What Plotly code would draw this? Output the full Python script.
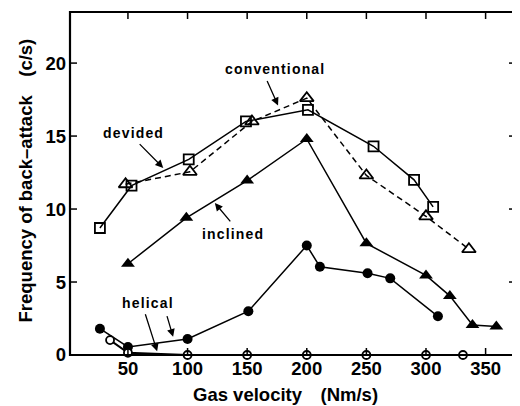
import plotly.graph_objects as go

# Data
conv_x = [26.5, 53, 101, 149, 201, 256, 290, 306]
conv_y = [8.7, 11.6, 13.4, 16.0, 16.8, 14.3, 12.0, 10.15]

div_x = [48, 102, 154, 200, 250, 300, 336]
div_y = [11.7, 12.55, 16.0, 17.6, 12.3, 9.5, 7.25]

incl_x = [50, 99, 150, 200, 250, 300, 320, 339, 359]
incl_y = [6.25, 9.4, 11.95, 14.8, 7.65, 5.45, 4.05, 2.05, 1.95]

hel1_x = [26.5, 50, 100, 151, 200, 211, 251, 270, 310]
hel1_y = [1.8, 0.55, 1.1, 3.0, 7.5, 6.05, 5.6, 5.25, 2.65]

hel2_x = [35, 50, 100, 150, 200, 250, 300, 331]
hel2_y = [1.02, 0.15, 0.0, 0.0, 0.0, 0.0, 0.0, 0.0]

x_ticks = [50, 100, 150, 200, 250, 300, 350]
y_ticks = [0, 5, 10, 15, 20]

FONT = "Liberation Sans"
W, H = 512, 398
ML, MR, MT, MB = 62, 4, 4, 51
PW, PH = W - ML - MR, H - MT - MB
TL = 7  # tick length in px

fig = go.Figure()

fig.add_trace(go.Scatter(x=conv_x, y=conv_y, mode="lines+markers",
                         line=dict(color="black", width=1.5),
                         marker=dict(symbol="square-open", size=10, color="black",
                                     line=dict(width=1.8, color="black")),
                         showlegend=False))
fig.add_trace(go.Scatter(x=div_x, y=div_y, mode="lines+markers",
                         line=dict(color="black", width=1.5, dash="6px,4px"),
                         marker=dict(symbol="triangle-up-open", size=12, color="black",
                                     line=dict(width=1.8, color="black")),
                         showlegend=False))
fig.add_trace(go.Scatter(x=incl_x, y=incl_y, mode="lines+markers",
                         line=dict(color="black", width=1.5),
                         marker=dict(symbol="triangle-up", size=12, color="black"),
                         showlegend=False))
fig.add_trace(go.Scatter(x=hel1_x, y=hel1_y, mode="lines+markers",
                         line=dict(color="black", width=1.5),
                         marker=dict(symbol="circle", size=10, color="black"),
                         showlegend=False))
fig.add_trace(go.Scatter(x=hel2_x, y=hel2_y, mode="lines+markers",
                         line=dict(color="black", width=2),
                         marker=dict(symbol="circle", size=8, color="white",
                                     line=dict(width=1.8, color="black")),
                         showlegend=False, cliponaxis=False))

annfont = dict(family=FONT, size=14, color="black", weight="bold")
arrow = dict(showarrow=True, arrowhead=2, arrowsize=1.2, arrowwidth=1.3,
             arrowcolor="black", xref="x", yref="y", axref="x", ayref="y",
             standoff=0, startstandoff=0)

def arr(x0, y0, x1, y1):
    fig.add_annotation(x=x1, y=y1, ax=x0, ay=y0, text="", **arrow)

def label(x, y, t):
    fig.add_annotation(x=x, y=y, text="\u200a".join(t), showarrow=False,
                       xref="x", yref="y", font=annfont)

label(173, 19.62, "conventional")
arr(166.2, 18.87, 175.9, 17.1)
label(54, 15.22, "devided")
arr(58.6, 14.55, 79.6, 12.82)
label(138, 8.32, "inclined")
arr(136.9, 9.05, 122.9, 10.42)
label(66.5, 3.53, "helical")
arr(64.2, 2.89, 74.5, 0.25)
arr(82.4, 2.77, 87.9, 1.25)

# Axis titles as paper-anchored text
titlefont = dict(family=FONT, size=18.5, color="black", weight="bold")
fig.add_annotation(text="Gas velocity\u2002\u2002(Nm/s)", xref="paper", yref="paper",
                   x=0.484, y=0, yshift=-39, yanchor="middle", showarrow=False,
                   font=titlefont)
fig.add_annotation(text="Frequency of back\u2013attack\u2002\u2002(c/s)", xref="paper",
                   yref="paper", x=0, xshift=-45, y=0.5, yshift=3, textangle=-90,
                   xanchor="center", showarrow=False, font=titlefont)

# Frame and inside ticks (drawn as shapes, positioned by the axis scales)
fig.add_shape(type="rect", xref="paper", yref="paper", x0=0, x1=1, y0=0, y1=1,
              line=dict(color="black", width=2.2), layer="above")
for xv in x_ticks:
    fig.add_shape(type="line", xref="x", yref="paper", x0=xv, x1=xv,
                  y0=0, y1=TL / PH, line=dict(color="black", width=1.5))
    fig.add_shape(type="line", xref="x", yref="paper", x0=xv, x1=xv,
                  y0=1, y1=1 - TL / PH, line=dict(color="black", width=1.5))
for yv in y_ticks:
    fig.add_shape(type="line", xref="paper", yref="y", x0=0, x1=TL / PW,
                  y0=yv, y1=yv, line=dict(color="black", width=1.5))
    fig.add_shape(type="line", xref="paper", yref="y", x0=1, x1=1 - TL / PW,
                  y0=yv, y1=yv, line=dict(color="black", width=1.5))

axis_common = dict(showgrid=False, zeroline=False, showline=False, ticks="",
                   automargin=False,
                   tickfont=dict(family=FONT, size=18.5, color="black", weight="bold"))

fig.update_xaxes(range=[1.4, 375.5], tickvals=x_ticks, **axis_common)
fig.update_yaxes(range=[0, 23.5], tickvals=y_ticks, ticklabelstandoff=3,
                 **axis_common)

# page body has an 8px margin, so the figure is shrunk by 8px
fig.update_layout(width=W, height=H, plot_bgcolor="white", paper_bgcolor="white",
                  margin=dict(l=ML, r=MR, t=MT, b=MB))

fig.write_html("out.html")
